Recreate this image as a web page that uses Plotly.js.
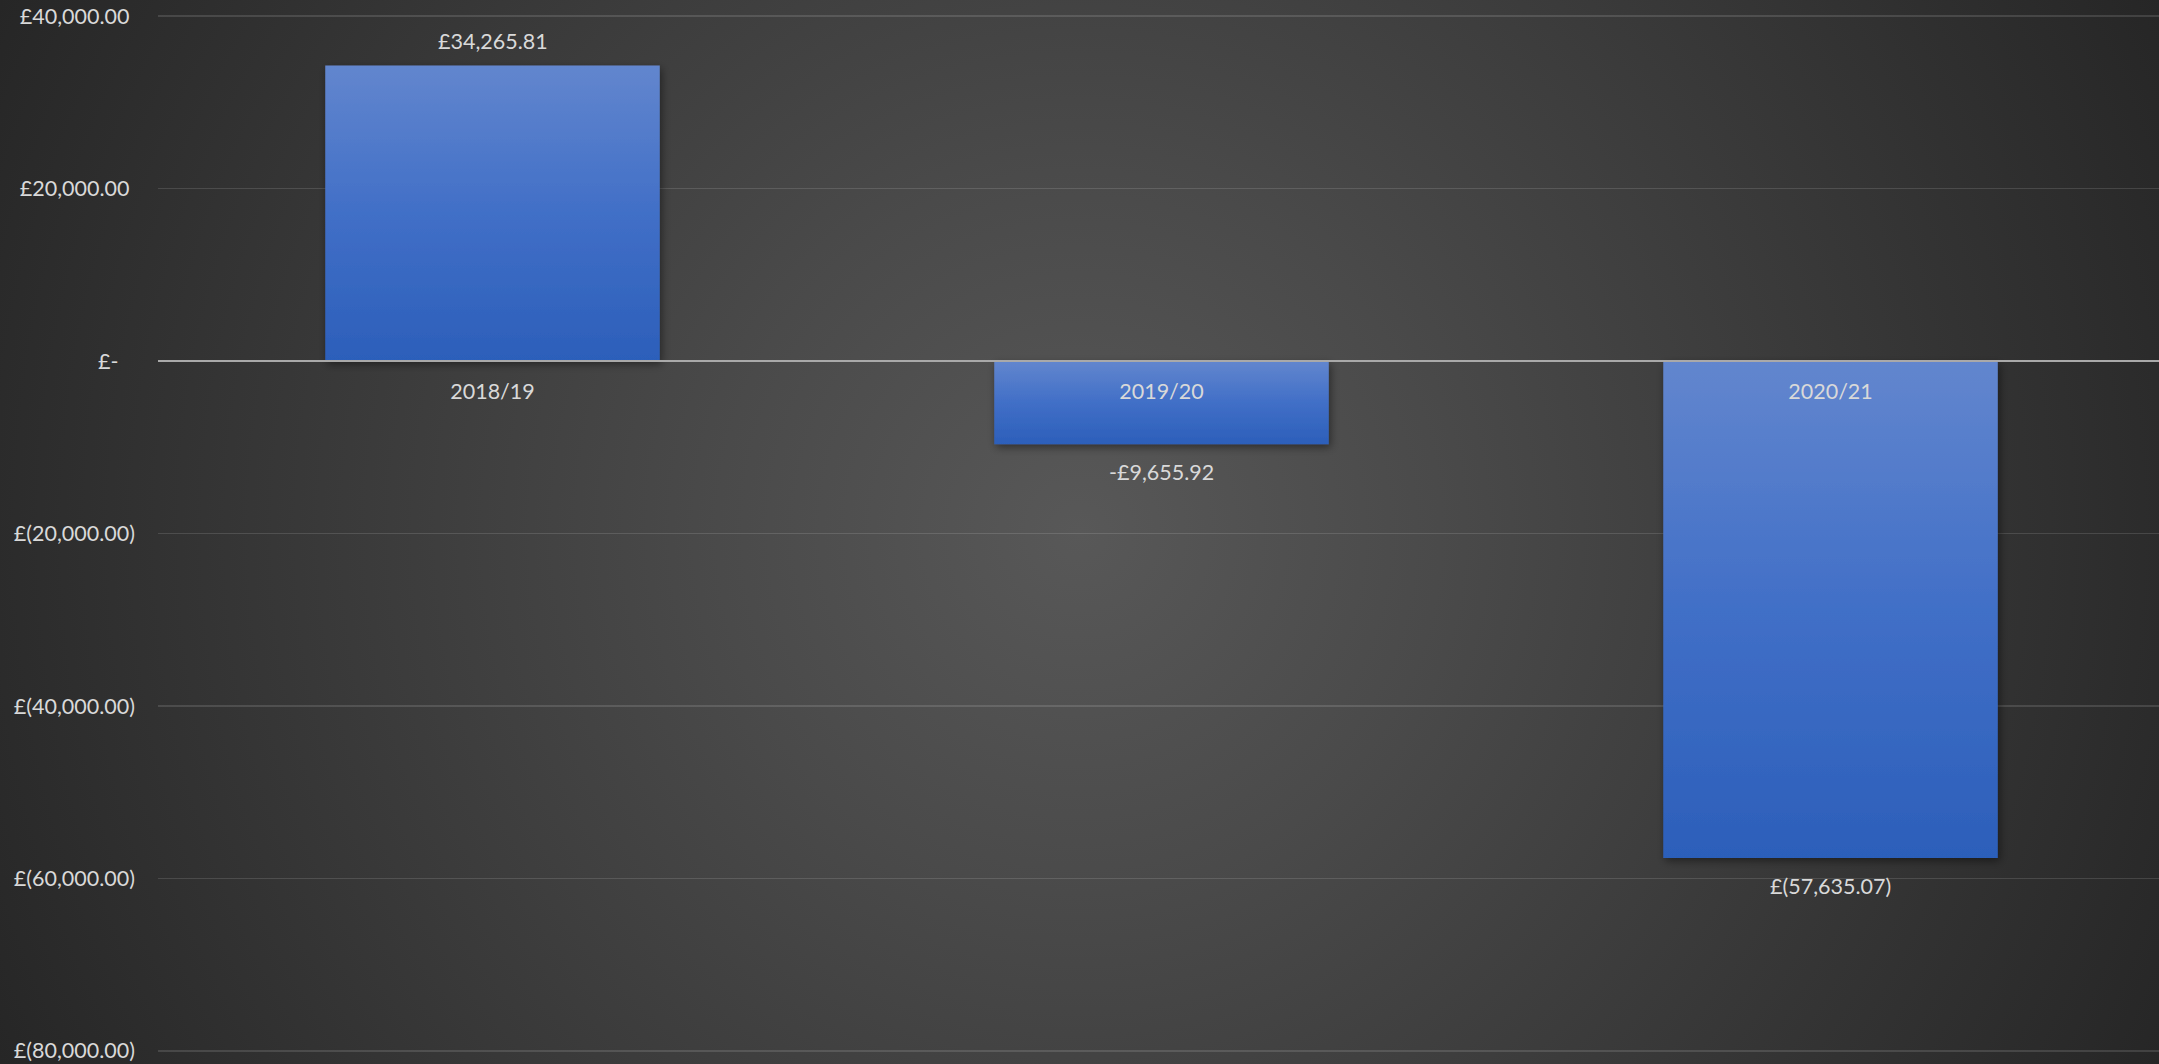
<!DOCTYPE html>
<html>
<head>
<meta charset="utf-8">
<script src="https://cdn.plot.ly/plotly-3.0.1.min.js"></script>
<style>
  html, body { margin: 0; padding: 0; width: 2159px; height: 1064px; overflow: hidden; }
  body { background: radial-gradient(circle farthest-corner at 50% 50%, #585858 0%, #4a4a4a 30%, #262626 100%); }
  #chart { width: 2159px; height: 1064px; }
</style>
</head>
<body>
<div id="chart"></div>
<script>
// ---- data ----
const categories = ["2018/19", "2019/20", "2020/21"];
const values = [34265.81, -9655.92, -57635.07];
const valueLabels = ["£34,265.81", "-£9,655.92", "£(57,635.07)"];
const yTickValues = [40000, 20000, 0, -20000, -40000, -60000, -80000];
const yTickLabels = ["£40,000.00\u00A0", "£20,000.00\u00A0", "£-\u00A0\u00A0\u00A0", "£(20,000.00)", "£(40,000.00)", "£(60,000.00)", "£(80,000.00)"];
const yRange = [-80240, 40240];
const xRange = [-0.5, 2.491];

const textColor = "#d9d9d9";
const fontFamily = "Lato, 'Open Sans', sans-serif";
const fontSize = 21.5;

const trace = {
  type: "bar",
  x: categories,
  y: values,
  marker: { color: "#3f6dc4", line: { width: 0 } },
  hoverinfo: "skip"
};

const annotations = categories.map((c, i) => ({
  x: c,
  y: values[i],
  xref: "x",
  yref: "y",
  text: valueLabels[i],
  showarrow: false,
  yanchor: values[i] >= 0 ? "bottom" : "top",
  yshift: values[i] >= 0 ? 10 : -13,
  font: { family: fontFamily, size: fontSize, color: textColor }
}));

const layout = {
  width: 2159,
  height: 1064,
  margin: { l: 158, r: 0, t: 14.4, b: 11.4, pad: 0 },
  paper_bgcolor: "rgba(0,0,0,0)",
  plot_bgcolor: "rgba(0,0,0,0)",
  showlegend: false,
  bargap: 0.5,
  font: { family: fontFamily, size: fontSize, color: textColor },
  xaxis: {
    type: "category",
    range: xRange,
    anchor: "free",
    position: (0 - yRange[0]) / (yRange[1] - yRange[0]),
    showline: true,
    linecolor: "#a9a9a9",
    linewidth: 2,
    layer: "above traces",
    showgrid: false,
    zeroline: false,
    ticks: "",
    ticklabelstandoff: 11,
    tickfont: { family: fontFamily, size: fontSize, color: textColor },
    fixedrange: true
  },
  yaxis: {
    range: yRange,
    tickmode: "array",
    tickvals: yTickValues,
    ticktext: yTickLabels,
    showgrid: true,
    gridcolor: "rgba(255,255,255,0.13)",
    gridwidth: 1.5,
    zeroline: false,
    showline: false,
    ticks: "",
    ticklabelstandoff: 22,
    tickfont: { family: fontFamily, size: fontSize, color: textColor },
    fixedrange: true
  },
  annotations: annotations
};

Plotly.newPlot("chart", [trace], layout, { displayModeBar: false, staticPlot: true }).then(function (gd) {
  const svg = gd.querySelector("svg.main-svg");
  const ns = "http://www.w3.org/2000/svg";
  let defs = svg.querySelector("defs");
  if (!defs) { defs = document.createElementNS(ns, "defs"); svg.insertBefore(defs, svg.firstChild); }
  const grad = document.createElementNS(ns, "linearGradient");
  grad.setAttribute("id", "barGrad");
  grad.setAttribute("x1", "0"); grad.setAttribute("y1", "0");
  grad.setAttribute("x2", "0"); grad.setAttribute("y2", "1");
  [["0%", "#6286ce"], ["50%", "#416fc7"], ["100%", "#2c5fba"]].forEach(function (s) {
    const st = document.createElementNS(ns, "stop");
    st.setAttribute("offset", s[0]);
    st.setAttribute("stop-color", s[1]);
    grad.appendChild(st);
  });
  defs.appendChild(grad);
  const filt = document.createElementNS(ns, "filter");
  filt.setAttribute("id", "barShadow");
  filt.setAttribute("x", "-10%"); filt.setAttribute("y", "-10%");
  filt.setAttribute("width", "125%"); filt.setAttribute("height", "125%");
  const ds = document.createElementNS(ns, "feDropShadow");
  ds.setAttribute("dx", "2"); ds.setAttribute("dy", "3");
  ds.setAttribute("stdDeviation", "4");
  ds.setAttribute("flood-color", "#000000");
  ds.setAttribute("flood-opacity", "0.45");
  filt.appendChild(ds);
  defs.appendChild(filt);
  gd.querySelectorAll(".trace.bars .point path").forEach(function (p) {
    p.style.fill = "url(#barGrad)";
    p.setAttribute("filter", "url(#barShadow)");
  });
});
</script>
</body>
</html>
